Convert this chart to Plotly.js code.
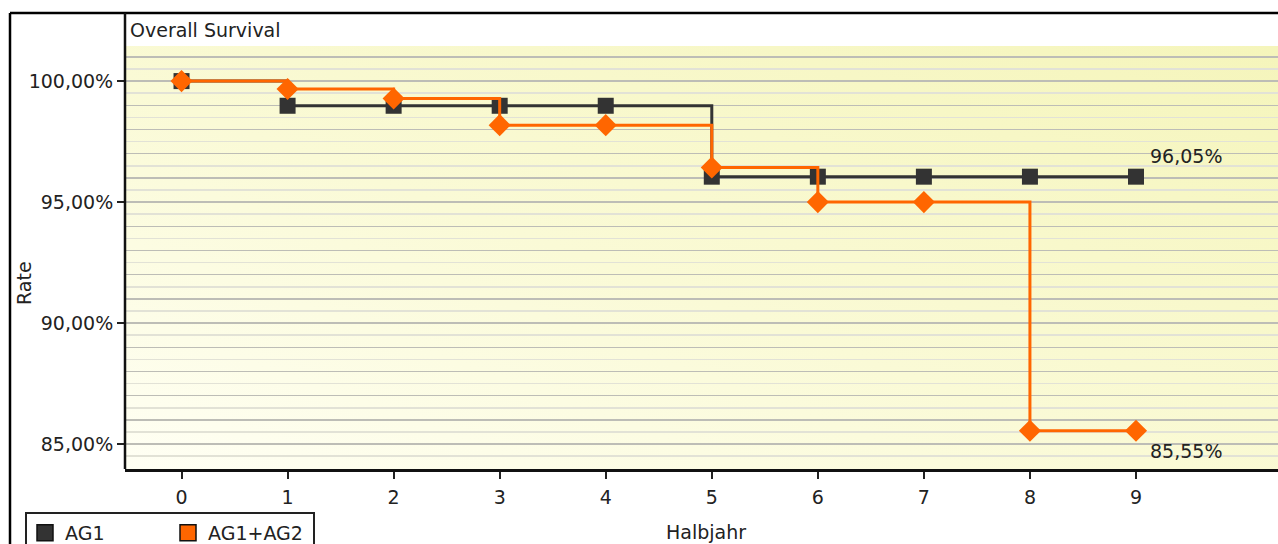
<!DOCTYPE html>
<html>
<head>
<meta charset="utf-8">
<script src="https://cdn.plot.ly/plotly-3.0.1.min.js"></script>
<style>
  html, body { margin: 0; padding: 0; background: #ffffff; }
  #wrap { position: relative; width: 1278px; height: 544px; overflow: hidden; }
  #bg { position: absolute; left: 125px; top: 46px; width: 1153px; height: 423px;
        background: linear-gradient(to top right, #fffff4 0%, #fafad6 45%, #f5f5bb 100%); }
  #chart { position: absolute; left: 0; top: 0; width: 1278px; height: 544px; }
</style>
</head>
<body>
<div id="wrap">
  <div id="bg"></div>
  <div id="chart"></div>
</div>
<script>
// ---- data ----
const halbjahr = [0, 1, 2, 3, 4, 5, 6, 7, 8, 9];
const ag1 = [100.00, 98.98, 98.98, 98.98, 98.98, 96.05, 96.05, 96.05, 96.05, 96.05];
const ag1ag2 = [100.00, 99.67, 99.28, 98.18, 98.18, 96.43, 95.00, 95.00, 85.55, 85.55];
const seriesNames = ["AG1", "AG1+AG2"];
const yTickVals = [85, 90, 95, 100];
const yTickText = ["85,00%", "90,00%", "95,00%", "100,00%"];
const xTickVals = [0, 1, 2, 3, 4, 5, 6, 7, 8, 9];
const chartTitle = "Overall Survival";
const xTitle = "Halbjahr";
const yTitle = "Rate";

const W = 1278, H = 544;
const px = v => v / W;
const py = v => 1 - v / H;
const FONT = "DejaVu Sans";
const TXT = "#222222";
const DARK = "#333333";
const ORANGE = "#ff6600";

function fmt(v) { return v.toFixed(2).replace(".", ",") + "%"; }

const traces = [
  { x: halbjahr, y: ag1, type: "scatter", mode: "lines+markers", name: seriesNames[0],
    showlegend: false, line: { color: DARK, width: 3, shape: "hv" },
    marker: { symbol: "square", size: 16, color: DARK } },
  { x: halbjahr, y: ag1ag2, type: "scatter", mode: "lines+markers", name: seriesNames[1],
    showlegend: false, line: { color: ORANGE, width: 3, shape: "hv" },
    marker: { symbol: "diamond", size: 17, color: ORANGE } },
  // legend entries (square swatches like the original legend)
  { x: [null], y: [null], type: "scatter", mode: "markers", name: seriesNames[0],
    marker: { symbol: "square", size: 19, color: DARK, line: { color: "#111", width: 1.5 } } },
  { x: [null], y: [null], type: "scatter", mode: "markers", name: seriesNames[1],
    marker: { symbol: "square", size: 19, color: ORANGE, line: { color: "#111", width: 1.5 } } },
  // invisible trace to drive the integer (darker) grid on overlay axis
  { x: [halbjahr[0]], y: [ag1[0]], yaxis: "y2", type: "scatter", mode: "markers",
    showlegend: false, hoverinfo: "skip", marker: { opacity: 0 } }
];

const yRange = [83.97, 101.45];
const xRange = [-0.533, 10.339];

const lastX = halbjahr[halbjahr.length - 1];
const annotations = [
  { xref: "x", yref: "y", x: lastX, y: ag1[ag1.length - 1], text: fmt(ag1[ag1.length - 1]),
    showarrow: false, xanchor: "left", yanchor: "middle", xshift: 12, yshift: 21,
    font: { family: FONT, size: 19, color: TXT } },
  { xref: "x", yref: "y", x: lastX, y: ag1ag2[ag1ag2.length - 1], text: fmt(ag1ag2[ag1ag2.length - 1]),
    showarrow: false, xanchor: "left", yanchor: "middle", xshift: 12, yshift: -20,
    font: { family: FONT, size: 19, color: TXT } },
  { xref: "paper", yref: "paper", x: px(24), y: py(283), text: yTitle, textangle: -90,
    showarrow: false, xanchor: "center", yanchor: "middle",
    font: { family: FONT, size: 19, color: TXT } },
  { xref: "paper", yref: "paper", x: px(706), y: py(532), text: xTitle,
    showarrow: false, xanchor: "center", yanchor: "middle",
    font: { family: FONT, size: 19, color: TXT } }
];

const shapes = [
  // outer frame top and left
  { type: "line", xref: "paper", yref: "paper", x0: px(10), x1: 1.01, y0: py(13), y1: py(13),
    line: { color: "#000", width: 2.5 } },
  { type: "line", xref: "paper", yref: "paper", x0: px(10), x1: px(10), y0: py(13), y1: -0.01,
    line: { color: "#000", width: 2.5 } },
  // plot box left edge extends up through the title band
  { type: "line", xref: "paper", yref: "paper", x0: px(125), x1: px(125), y0: py(469), y1: py(13),
    line: { color: "#111", width: 2.5 } }
];

const layout = {
  width: W, height: H,
  margin: { l: 0, r: 0, t: 0, b: 0, pad: 0, autoexpand: false },
  paper_bgcolor: "rgba(0,0,0,0)",
  plot_bgcolor: "rgba(0,0,0,0)",
  font: { family: FONT, size: 19, color: TXT },
  title: { text: chartTitle, x: px(130), xanchor: "left", xref: "paper",
           y: py(30), yanchor: "middle", yref: "paper",
           font: { family: FONT, size: 19, color: TXT } },
  xaxis: {
    domain: [px(125), 1], range: xRange, tickvals: xTickVals,
    showgrid: false, zeroline: false, showline: true, linecolor: "#111", linewidth: 2.5,
    ticks: "outside", ticklen: 7, tickwidth: 2, tickcolor: "#222",
    tickfont: { family: FONT, size: 19, color: TXT }, ticklabelstandoff: 3
  },
  yaxis: {
    domain: [py(469), py(46)], range: yRange, tickvals: yTickVals, ticktext: yTickText,
    showgrid: false, zeroline: false, showline: false,
    ticks: "outside", ticklen: 7, tickwidth: 2, tickcolor: "#222",
    tickfont: { family: FONT, size: 19, color: TXT },
    minor: { dtick: 0.5, tick0: 0, showgrid: true, gridcolor: "#e2e2d6", gridwidth: 1.5, ticks: "" }
  },
  yaxis2: {
    overlaying: "y", matches: "y", domain: [py(469), py(46)], range: yRange,
    dtick: 1, tick0: 0, showgrid: true, gridcolor: "#bdbdb6", gridwidth: 1.5,
    showticklabels: false, ticks: "", zeroline: false, showline: false, side: "left"
  },
  showlegend: true,
  legend: {
    orientation: "h", x: px(25), y: py(512), xanchor: "left", yanchor: "top",
    xref: "paper", yref: "paper",
    bgcolor: "#ffffff", bordercolor: "#222", borderwidth: 2,
    font: { family: FONT, size: 19, color: TXT },
    entrywidth: 100, itemsizing: "trace", traceorder: "normal", indentation: -2
  },
  annotations: annotations,
  shapes: shapes
};

Plotly.newPlot("chart", traces, layout, { displayModeBar: false, staticPlot: true });
</script>
</body>
</html>
